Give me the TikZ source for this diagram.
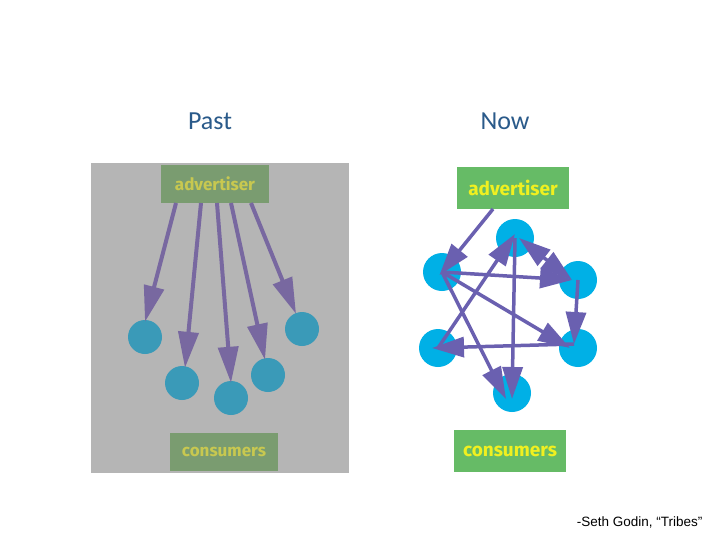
\documentclass[tikz,border=0pt]{standalone}
\usepackage{fontspec}
\setmainfont{Carlito}
\newfontfamily\arialf{Liberation Sans}
\newfontfamily\boxf{Fira Sans}
\usetikzlibrary{arrows.meta}
\definecolor{titleblue}{HTML}{2A5A8A}
\definecolor{pgray}{HTML}{B5B5B5}
\definecolor{pgreen}{HTML}{7A9C70}
\definecolor{pyellow}{HTML}{C8C850}
\definecolor{pcirc}{HTML}{3A9AB8}
\definecolor{parrow}{HTML}{7868A0}
\definecolor{ngreen}{HTML}{66BB66}
\definecolor{nyellow}{HTML}{F0F020}
\definecolor{ncirc}{HTML}{00B0E6}
\definecolor{narrow}{HTML}{6A60B0}
\tikzset{
 pbox/.style={fill=pgreen,text=pyellow,font=\boxf\bfseries\fontsize{17}{18}\selectfont,minimum width=108pt,minimum height=38pt,inner sep=0pt},
 nbox/.style={fill=ngreen,text=nyellow,font=\boxf\bfseries\fontsize{19}{20}\selectfont,minimum width=112pt,minimum height=42pt,inner sep=0pt},
 pc/.style={circle,fill=pcirc,minimum size=34pt,inner sep=0pt},
 nc/.style={circle,fill=ncirc,minimum size=38pt,inner sep=0pt},
 ahp/.tip={Triangle[length=36pt,width=20pt]},
 ahn/.tip={Triangle[length=32pt,width=20pt]},
 parr/.style={draw=parrow,line width=4pt,-ahp},
 narr/.style={draw=narrow,line width=3.5pt,-ahn},
 title/.style={text=titleblue,font=\fontsize{26}{28}\selectfont}
}
\begin{document}
\begin{tikzpicture}[x=1pt,y=-1pt]
\useasboundingbox[fill=white] (0,0) rectangle (728,546);
\node[title] (past) at (210,121) {Past};
\node[title] (now) at (505,121) {Now};
% Past panel
\fill[pgray] (91,163) rectangle (349,473);
\node[pbox] (pad) at (215,184) {advertiser};
\node[pbox] (pcon) at (224,452) {consumers};
\node[pc] (p1) at (145,337) {};
\node[pc] (p2) at (182,383) {};
\node[pc] (p3) at (231,398) {};
\node[pc] (p4) at (268,375) {};
\node[pc] (p5) at (302,329) {};
\coordinate (s1) at (176,203); \coordinate (s2) at (201,203); \coordinate (s3) at (217,203);
\coordinate (s4) at (231,203); \coordinate (s5) at (251,203);
\draw[parr] (s1) -- ([yshift=-2pt]p1.north);
\draw[parr] (s2) -- ([xshift=3pt,yshift=-2pt]p2.north);
\draw[parr] (s3) -- ([yshift=-2pt]p3.north);
\draw[parr] (s4) -- ([xshift=-3pt,yshift=-2pt]p4.north);
\draw[parr] (s5) -- ([xshift=-6pt,yshift=-2pt]p5.north);
% Now panel
\node[nc] (top) at (515,238) {};
\node[nc] (lu) at (442,272) {};
\node[nc] (ru) at (578,280) {};
\node[nc] (ll) at (438,348) {};
\node[nc] (rl) at (578,348) {};
\node[nc] (bot) at (512,393) {};
\node[nbox] (nad) at (513,188) {advertiser};
\node[nbox] (ncon) at (510,451) {consumers};
\coordinate (adout) at (493,209);
\draw[narr,shorten >=-4pt] (adout) -- (lu.center);
\draw[narr] (lu.center) -- ([xshift=-6pt]ru.center);
\draw[narr] (lu.center) -- ([xshift=-8pt]rl.center);
\draw[narr] (lu.center) -- ([xshift=-6pt,yshift=-6pt]bot.center);
\draw[narr] (ll.center) -- ([yshift=4pt]top.center);
\draw[narr] (top.center) -- ([yshift=-6pt]bot.center);
\draw[narr,ahn-ahn] ([xshift=4pt]top.center) -- ([xshift=-6pt]ru.center);
\draw[narr] (ru.center) -- ([xshift=-4pt,yshift=4pt]rl.center);
\draw[narr] ([xshift=-4pt,yshift=4pt]rl.center) -- ([xshift=-6pt]ll.center);
\node[font=\arialf\fontsize{13.5}{15}\selectfont,anchor=east] (cite) at (706,522) {-Seth Godin, “Tribes”};
\end{tikzpicture}
\end{document}
